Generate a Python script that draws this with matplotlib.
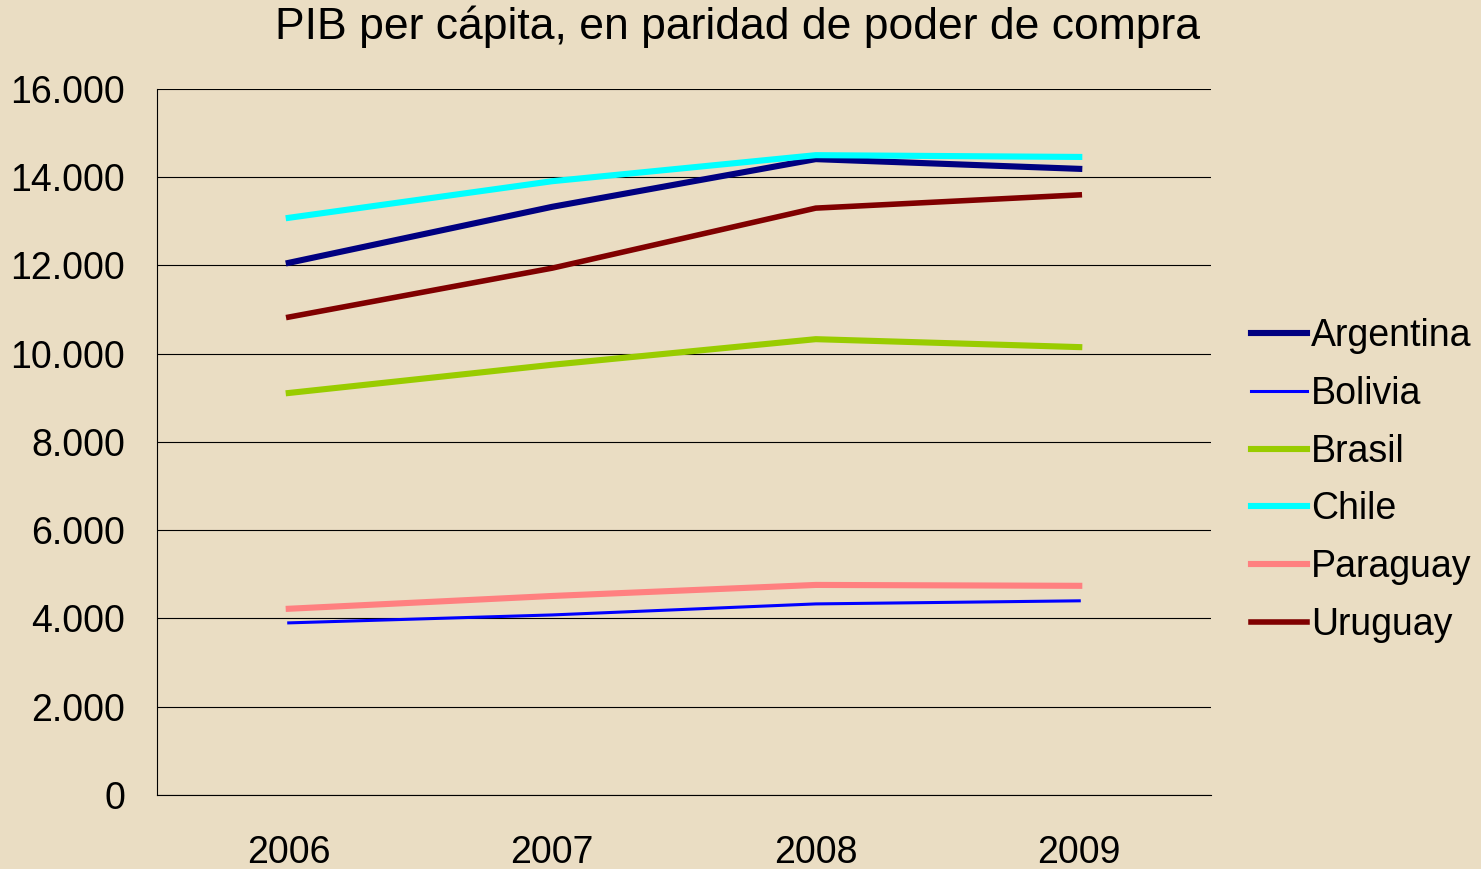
import matplotlib.pyplot as plt
from matplotlib.ticker import FuncFormatter

plt.rcParams['font.family'] = ['Liberation Sans', 'DejaVu Sans']

years = ['2006', '2007', '2008', '2009']
argentina = [12060, 13330, 14410, 14190]
bolivia = [3900, 4080, 4330, 4400]
brasil = [9110, 9750, 10330, 10150]
chile = [13080, 13910, 14500, 14460]
paraguay = [4220, 4510, 4760, 4740]
uruguay = [10830, 11940, 13300, 13600]

bg = '#EADDC3'
fig = plt.figure(figsize=(14.81, 8.69), dpi=100, facecolor=bg)
ax = fig.add_axes([0.106, 0.0852, 0.7117, 0.8124], facecolor=bg)

x = range(len(years))
ax.plot(x, argentina, color='#000080', lw=4.4, label='Argentina')
ax.plot(x, bolivia, color='#0000FF', lw=2.2, label='Bolivia')
ax.plot(x, brasil, color='#99CC00', lw=4.4, label='Brasil')
ax.plot(x, chile, color='#00FFFF', lw=4.4, label='Chile')
ax.plot(x, paraguay, color='#FF8080', lw=4.4, label='Paraguay')
ax.plot(x, uruguay, color='#800000', lw=4.0, label='Uruguay')

ax.set_xlim(-0.5, 3.5)
ax.set_ylim(0, 16000)
ax.set_yticks(range(0, 16001, 2000))
ax.yaxis.set_major_formatter(FuncFormatter(lambda v, p: f'{int(v):,}'.replace(',', '.')))
ax.set_xticks(list(x))
ax.set_xticklabels(years)
ax.grid(axis='y', color='black', lw=0.8)
ax.set_axisbelow(True)
for s in ['top', 'right']:
    ax.spines[s].set_visible(False)
ax.spines['left'].set_linewidth(0.8)
ax.spines['bottom'].set_linewidth(0.8)
ax.tick_params(length=0, labelsize=27)
ax.tick_params(axis='y', pad=23)
ax.tick_params(axis='x', pad=29)

fig.text(0.498, 0.969, 'PIB per cápita, en paridad de poder de compra',
         ha='center', va='center', fontsize=32)

fig.legend(loc='center left', bbox_to_anchor=(0.8345, 0.447), frameon=False,
           fontsize=27, handlelength=1.5, handletextpad=0.1, labelspacing=0.58,
           borderaxespad=0)

fig.savefig('out.png', dpi=100, facecolor=bg)
